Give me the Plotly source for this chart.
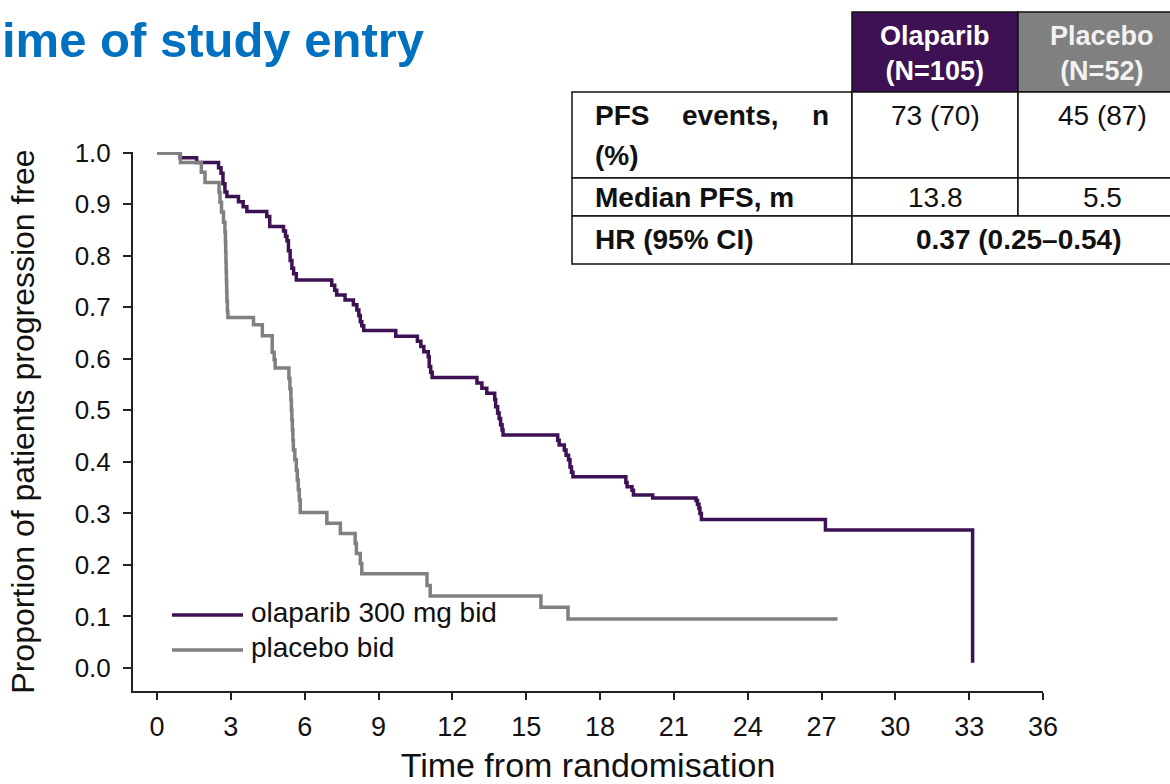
import plotly.graph_objects as go

# Kaplan-Meier step data (time in months, proportion progression free after each step)
olaparib_t = [0, 0.94, 1.61, 2.50, 2.60, 2.68, 2.76, 2.84, 3.31, 3.50, 3.65, 4.46, 4.58,
              5.14, 5.22, 5.28, 5.34, 5.41, 5.48, 5.55, 5.66, 7.10, 7.22, 7.30, 7.64, 7.98,
              8.12, 8.20, 8.26, 8.32, 8.40, 9.70, 10.58, 10.72, 10.84, 11.02, 11.06, 11.12,
              11.18, 13.00, 13.20, 13.40, 13.72, 13.76, 13.84, 13.90, 13.96, 14.02, 14.06,
              16.28, 16.34, 16.55, 16.62, 16.72, 16.78, 16.84, 16.90, 19.05, 19.10, 19.30,
              19.36, 20.14, 21.90, 21.96, 22.02, 22.06, 22.12, 27.16, 33.14]
olaparib_s = [1.0, 0.990, 0.981, 0.971, 0.960, 0.940, 0.924, 0.915, 0.905, 0.895, 0.886,
              0.876, 0.857, 0.848, 0.838, 0.829, 0.810, 0.791, 0.776, 0.765, 0.753, 0.743,
              0.733, 0.724, 0.714, 0.705, 0.695, 0.684, 0.672, 0.664, 0.655, 0.644, 0.634,
              0.624, 0.614, 0.604, 0.585, 0.574, 0.564, 0.553, 0.543, 0.533, 0.521, 0.507,
              0.495, 0.484, 0.472, 0.462, 0.452, 0.442, 0.433, 0.423, 0.413, 0.404, 0.390,
              0.380, 0.371, 0.360, 0.352, 0.345, 0.336, 0.330, 0.325, 0.318, 0.310, 0.300,
              0.288, 0.268, 0.01]

placebo_t = [0, 0.95, 1.80, 1.95, 2.52, 2.56, 2.62, 2.70, 2.76, 2.78, 2.79, 2.80, 2.81,
             2.82, 2.83, 2.84, 2.86, 2.88, 3.92, 4.28, 4.68, 4.76, 4.80, 5.36, 5.40, 5.44,
             5.46, 5.48, 5.50, 5.52, 5.54, 5.60, 5.66, 5.70, 5.74, 5.78, 5.82, 6.90, 7.45,
             8.05, 8.10, 8.26, 8.32, 10.97, 11.10, 15.60, 16.70, 27.65]
placebo_s = [1.0, 0.981, 0.962, 0.942, 0.923, 0.904, 0.885, 0.865, 0.846, 0.827, 0.808,
             0.788, 0.769, 0.750, 0.731, 0.712, 0.692, 0.680, 0.666, 0.645, 0.613, 0.598,
             0.582, 0.562, 0.542, 0.520, 0.500, 0.481, 0.462, 0.442, 0.423, 0.404, 0.384,
             0.365, 0.346, 0.326, 0.302, 0.281, 0.261, 0.242, 0.222, 0.203, 0.183, 0.160,
             0.140, 0.118, 0.095, 0.095]

x_ticks = list(range(0, 37, 3))
y_ticks = [i / 10 for i in range(11)]
y_tick_labels = [f"{v:.1f}" for v in y_ticks]

series_names = ["olaparib 300 mg bid", "placebo bid"]

# Summary table contents
table_header = ["Olaparib<br>(N=105)", "Placebo<br>(N=52)"]
row_labels = ["Median PFS, m", "HR (95% CI)"]
pfs_events = ["73 (70)", "45 (87)"]
median_pfs = ["13.8", "5.5"]
hazard_ratio = "0.37 (0.25–0.54)"

PURPLE = "#3D1153"
GREY = "#808080"
BLUE = "#0070C0"
INK = "#111111"
FONT = "Liberation Sans, Arial, sans-serif"

W, H = 1170, 784
L, R, T, B = 133, 1043, 152, 691


def px(x):
    return (x - L) / (R - L)


def py(y):
    return (B - y) / (B - T)


fig = go.Figure()
fig.add_trace(go.Scatter(x=olaparib_t, y=olaparib_s, mode="lines", name=series_names[0],
                         line=dict(shape="hv", color=PURPLE, width=3.5), showlegend=False))
fig.add_trace(go.Scatter(x=placebo_t, y=placebo_s, mode="lines", name=series_names[1],
                         line=dict(shape="hv", color=GREY, width=3.5), showlegend=False))

shapes = []
annotations = []

# table geometry (pixels)
c0, c1, c2, c3 = 572, 852, 1018, 1186
r0, r1, r2, r3, r4 = 12, 92, 178, 216, 264
border = dict(color=INK, width=1.5)


def cell(x0, y0, x1, y1, fill):
    shapes.append(dict(type="rect", xref="paper", yref="paper", x0=px(x0), x1=px(x1),
                       y0=py(y1), y1=py(y0), fillcolor=fill, line=border, layer="above"))


def text(x, y, s, size=28, bold=False, color=INK, anchor="center"):
    annotations.append(dict(xref="paper", yref="paper", x=px(x), y=py(y), text=s,
                            showarrow=False, xanchor=anchor, yanchor="middle",
                            font=dict(family=FONT, size=size, color=color,
                                      weight="bold" if bold else "normal")))


cell(c1, r0, c2, r1, PURPLE)
cell(c2, r0, c3, r1, GREY)
for y0, y1 in ((r1, r2), (r2, r3)):
    cell(c0, y0, c1, y1, "white")
    cell(c1, y0, c2, y1, "white")
    cell(c2, y0, c3, y1, "white")
cell(c0, r3, c1, r4, "white")
cell(c1, r3, c3, r4, "white")

mid1 = (c1 + c2) / 2
mid2 = (c2 + c3) / 2
text(mid1, 54, table_header[0], size=27, bold=True, color="white")
text(mid2, 54, table_header[1], size=27, bold=True, color="#F2F2F2")

# justified label in the first body row
text(593, 116, "PFS", bold=True, anchor="left")
text(730, 116, "events,", bold=True)
text(831, 116, "n", bold=True, anchor="right")
text(593, 155, "(%)", bold=True, anchor="left")
text(593, 197, row_labels[0], bold=True, anchor="left")
text(593, 240, row_labels[1], bold=True, anchor="left")
text(mid1, 116, pfs_events[0])
text(mid2, 116, pfs_events[1])
text(mid1, 197, median_pfs[0])
text(mid2, 197, median_pfs[1])
text((c1 + c3) / 2, 240, hazard_ratio, bold=True)

# heading line
text(0, 40, "ime of study entry", size=49, bold=True, color=BLUE, anchor="left")

# legend key
for (y, color, name) in ((615, PURPLE, series_names[0]), (650, GREY, series_names[1])):
    shapes.append(dict(type="line", xref="paper", yref="paper", x0=px(172), x1=px(243),
                       y0=py(y), y1=py(y), line=dict(color=color, width=3.5)))
    text(249, y - 3, name, size=28, anchor="left")

fig.update_layout(
    width=W, height=H,
    margin=dict(l=L, r=W - R, t=T, b=H - B, pad=0),
    paper_bgcolor="white", plot_bgcolor="white",
    font=dict(family=FONT, color=INK),
    shapes=shapes, annotations=annotations,
    showlegend=False,
    xaxis=dict(range=[-0.976, 36], tickmode="array", tickvals=x_ticks, automargin=False,
               ticks="outside", ticklen=7, tickwidth=2, tickcolor="#222222",
               showline=True, linewidth=2, linecolor="#222222", showgrid=False, zeroline=False,
               tickfont=dict(family=FONT, size=27, color=INK), ticklabelstandoff=4,
               title=dict(text="Time from randomisation", standoff=20,
                          font=dict(family=FONT, size=34, color=INK))),
    yaxis=dict(range=[-0.0446, 1.0014], tickmode="array", tickvals=y_ticks, ticktext=y_tick_labels,
               automargin=False,
               ticks="outside", ticklen=8, tickwidth=2, tickcolor="#222222",
               showline=True, linewidth=2, linecolor="#222222", showgrid=False, zeroline=False,
               tickfont=dict(family=FONT, size=26, color=INK), ticklabelstandoff=7,
               title=dict(text="Proportion of patients progression free", standoff=30,
                          font=dict(family=FONT, size=32, color=INK))),
)

fig.write_html("out.html")
